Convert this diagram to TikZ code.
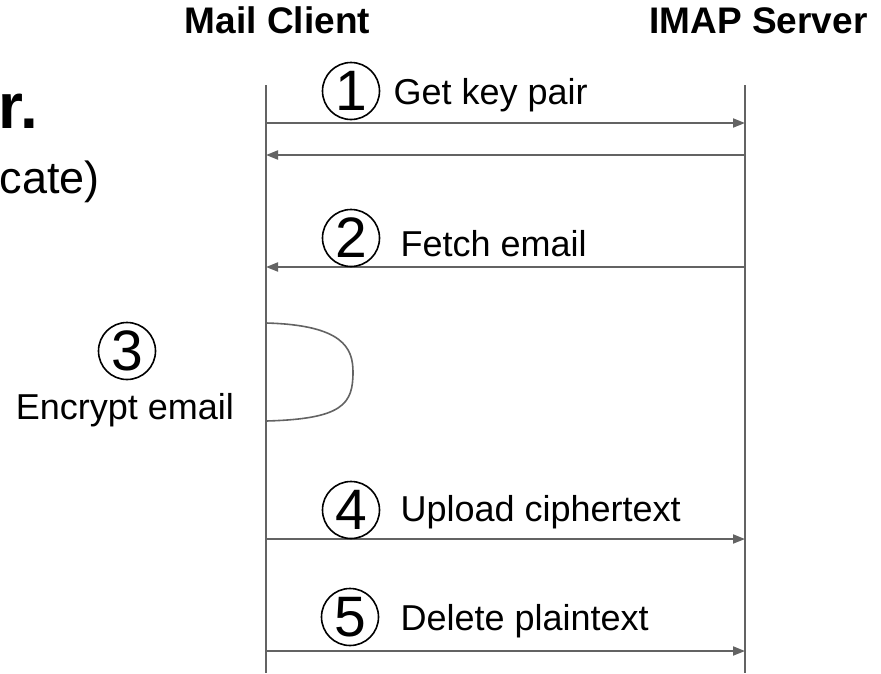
\documentclass[tikz,border=0pt]{standalone}
\usepackage{fontspec}
\setmainfont{Liberation Sans}
\usetikzlibrary{arrows.meta}
\definecolor{linegray}{HTML}{636363}
\begin{document}
\begin{tikzpicture}[x=1pt,y=-1pt,
  lifeline/.style={draw=linegray,line width=1.9pt},
  msg/.style={draw=linegray,line width=1.9pt,-{Triangle[length=12pt,width=9pt]}},
  loopline/.style={draw=linegray,line width=1.6pt},
  numc/.style={circle,draw=black,line width=1.6pt,minimum size=57pt,inner sep=0pt,font=\fontsize{57}{57}\selectfont},
  lbl/.style={anchor=base west,font=\fontsize{36}{40}\selectfont},
  head/.style={anchor=base,font=\fontsize{37}{40}\selectfont\bfseries}]
\useasboundingbox (0,0) rectangle (881,673);
% partial title text at left edge
\node[anchor=base east,inner sep=0pt,font=\fontsize{64}{64}\selectfont\bfseries] (t1) at (38,128) {r.};
\node[anchor=base east,inner sep=0pt,font=\fontsize{45}{45}\selectfont] (t2) at (100,193) {cate)};
% headers
\node[head] (hc) at (277.5,33) {Mail Client};
\node[head] (hs) at (758.5,33) {IMAP Server};
% lifelines
\coordinate (Ltop) at (266,85);
\coordinate (Lbot) at (266,673);
\coordinate (Rtop) at (745,85);
\coordinate (Rbot) at (745,673);
\draw[lifeline] (Ltop) -- (Lbot);
\draw[lifeline] (Rtop) -- (Rbot);
% message anchor points
\coordinate (L1) at (266,123); \coordinate (R1) at (745,123);
\coordinate (L1b) at (266,155); \coordinate (R1b) at (745,155);
\coordinate (L2) at (266,267); \coordinate (R2) at (745,267);
\coordinate (L4) at (266,539); \coordinate (R4) at (745,539);
\coordinate (L5) at (266,651); \coordinate (R5) at (745,651);
\coordinate (E1) at (266,323); \coordinate (E2) at (266,421);
% messages
\draw[msg] (L1) -- (R1);
\draw[msg] (R1b) -- (L1b);
\draw[msg] (R2) -- (L2);
\draw[msg] (L4) -- (R4);
\draw[msg] (L5) -- (R5);
% self loop
\draw[loopline] (E1) .. controls (343,325) and (353,348) .. (353,372)
  .. controls (353,404) and (343,419) .. (E2);
% step numbers and labels
\node[numc] (c1) at (351,91) {1};
\node[lbl] (l1) at (390,104) {Get key pair};
\node[numc] (c2) at (351,238) {2};
\node[lbl] (l2) at (397,256) {Fetch email};
\node[numc] (c3) at (127,351) {3};
\node[anchor=base,font=\fontsize{36}{40}\selectfont] (l3) at (125,419) {Encrypt email};
\node[numc] (c4) at (351,510) {4};
\node[lbl] (l4) at (397,521) {Upload ciphertext};
\node[numc] (c5) at (350,617) {5};
\node[lbl] (l5) at (397,630) {Delete plaintext};
\end{tikzpicture}
\end{document}
